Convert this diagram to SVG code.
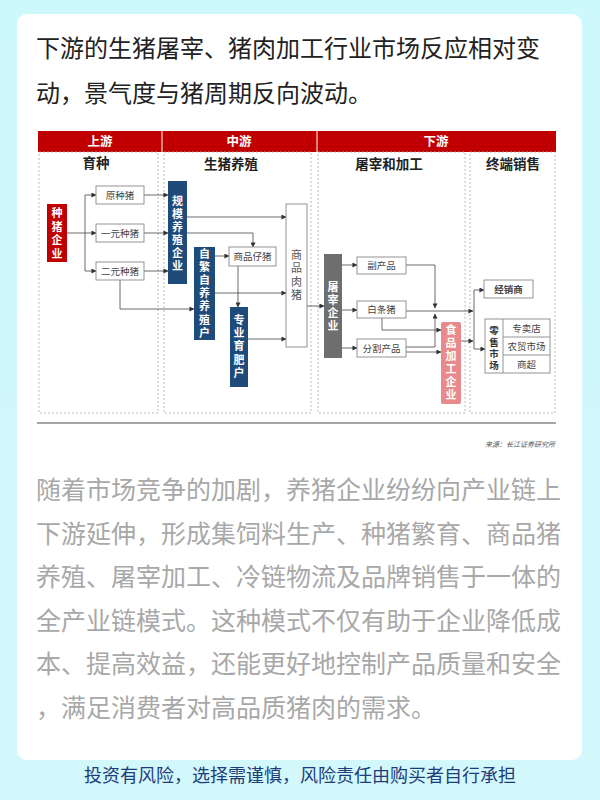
<svg xmlns="http://www.w3.org/2000/svg" width="600" height="800" viewBox="0 0 600 800">
<defs>
<marker id="ah" viewBox="0 0 6 6" refX="5.5" refY="3" markerWidth="5" markerHeight="5" orient="auto" markerUnits="userSpaceOnUse"><path d="M0,0 L6,3 L0,6 Z" fill="#333"/></marker>
<linearGradient id="bg" x1="0" y1="0" x2="0" y2="1"><stop offset="0" stop-color="#cdf8fc"/><stop offset="1" stop-color="#d3f8fb"/></linearGradient>
</defs>
<style>
text{font-family:"Noto Sans CJK SC","Noto Sans",sans-serif}
.title{font-size:24px;fill:#222}
.para{font-size:25px;fill:#a8a8a8}
.foot{font-size:18px;fill:#1e3c7c}
.hdr{font-size:12.5px;font-weight:bold;fill:#fff}
.colh{font-size:13.5px;font-weight:bold;fill:#222}
.col{fill:none;stroke:#aaa;stroke-width:0.8;stroke-dasharray:2,2}
.box{fill:#fff;stroke:#888;stroke-width:0.9}
.bt{font-size:9.5px;fill:#444;text-anchor:middle}
.vt{font-size:11px;font-weight:bold;fill:#fff;text-anchor:middle}
.vg{font-size:11px;fill:#555;text-anchor:middle}
.blue{fill:#1f4b7a}
.conn path{fill:none;stroke:#444;stroke-width:0.8}
.arr{marker-end:url(#ah)}
</style>
<rect width="600" height="800" fill="url(#bg)"/>
<rect x="17" y="14" width="565" height="746" rx="10" fill="#fff"/>
<text class="title" x="36" y="57">下游的生猪屠宰、猪肉加工行业市场反应相对变</text>
<text class="title" x="36" y="102">动，景气度与猪周期反向波动。</text>

<g id="header">
<rect x="38" y="131" width="518" height="21" fill="#c00000"/>
<line x1="162" y1="131" x2="162" y2="152" stroke="#fff" stroke-width="1"/>
<line x1="317" y1="131" x2="317" y2="152" stroke="#fff" stroke-width="1"/>
<text class="hdr" x="100" y="146" text-anchor="middle">上游</text>
<text class="hdr" x="239" y="146" text-anchor="middle">中游</text>
<text class="hdr" x="436" y="146" text-anchor="middle">下游</text>
</g>
<g id="columns">
<rect class="col" x="39" y="152" width="119" height="261"/>
<rect class="col" x="164" y="152" width="147" height="261"/>
<rect class="col" x="318" y="152" width="147" height="261"/>
<rect class="col" x="470" y="152" width="85" height="261"/>
<text class="colh" x="96" y="168" text-anchor="middle">育种</text>
<text class="colh" x="231" y="169" text-anchor="middle">生猪养殖</text>
<text class="colh" x="389" y="169" text-anchor="middle">屠宰和加工</text>
<text class="colh" x="513" y="169" text-anchor="middle">终端销售</text>
</g>

<g class="conn" id="connectors">
<path class="arr" d="M67,233 H96"/>
<path d="M85,195 V271"/>
<path class="arr" d="M85,195 H96"/>
<path class="arr" d="M85,271 H96"/>
<path class="arr" d="M144,195 H168"/>
<path class="arr" d="M144,233 H168"/>
<path class="arr" d="M144,271 H168"/>
<path class="arr" d="M120,280 V309 H194"/>
<path class="arr" d="M187,217 H286"/>
<path class="arr" d="M187,233 H253 V247"/>
<path class="arr" d="M215,256 H229"/>
<path class="arr" d="M238,266 V307"/>
<path class="arr" d="M215,293 H286"/>
<path class="arr" d="M248,339 H286"/>
<path class="arr" d="M307,306 H324"/>
<path class="arr" d="M342,265 H357"/>
<path class="arr" d="M342,310 H357"/>
<path class="arr" d="M342,348 H357"/>
<path class="arr" d="M406,265 H435 V308"/>
<path class="arr" d="M406,347 H435 V314"/>
<path class="arr" d="M406,311 H473"/>
<path class="arr" d="M382,318 V330 H441"/>
<path class="arr" d="M406,352 H441"/>
<path class="arr" d="M461,341 H473"/>
<path d="M474,290 V349"/>
<path class="arr" d="M474,290 H484"/>
<path class="arr" d="M474,349 H485"/>
</g>

<g id="zhuzhu">
<rect x="47" y="204" width="20" height="58" fill="#c00000"/>
<text class="vt" x="57" y="217"><tspan x="57">种</tspan><tspan x="57" dy="13.5">猪</tspan><tspan x="57" dy="13.5">企</tspan><tspan x="57" dy="13.5">业</tspan></text>
</g>
<g id="yuanzhong"><rect class="box" x="96" y="186" width="48" height="18"/><text class="bt" x="120" y="198.5">原种猪</text></g>
<g id="yiyuan"><rect class="box" x="96" y="224" width="48" height="18"/><text class="bt" x="120" y="236.5">一元种猪</text></g>
<g id="eryuan"><rect class="box" x="96" y="262" width="48" height="18"/><text class="bt" x="120" y="274.5">二元种猪</text></g>

<g id="guimo">
<rect class="blue" x="168" y="181" width="19" height="103"/>
<text class="vt" x="177.5" y="205"><tspan x="177.5">规</tspan><tspan x="177.5" dy="13">模</tspan><tspan x="177.5" dy="13">养</tspan><tspan x="177.5" dy="13">殖</tspan><tspan x="177.5" dy="13">企</tspan><tspan x="177.5" dy="13">业</tspan></text>
</g>
<g id="zifan">
<rect class="blue" x="194" y="247" width="21" height="93"/>
<text class="vt" x="204.5" y="257.5"><tspan x="204.5">自</tspan><tspan x="204.5" dy="13.2">繁</tspan><tspan x="204.5" dy="13.2">自</tspan><tspan x="204.5" dy="13.2">养</tspan><tspan x="204.5" dy="13.2">养</tspan><tspan x="204.5" dy="13.2">殖</tspan><tspan x="204.5" dy="13.2">户</tspan></text>
</g>
<g id="zizhu"><rect class="box" x="229" y="247" width="47" height="19"/><text class="bt" x="252.5" y="260">商品仔猪</text></g>
<g id="yufei">
<rect class="blue" x="230" y="307" width="18" height="80"/>
<text class="vt" x="239" y="324"><tspan x="239">专</tspan><tspan x="239" dy="13.2">业</tspan><tspan x="239" dy="13.2">育</tspan><tspan x="239" dy="13.2">肥</tspan><tspan x="239" dy="13.2">户</tspan></text>
</g>
<g id="rouzhu">
<rect class="box" x="286" y="204" width="21" height="143"/>
<text class="vg" x="296.5" y="259"><tspan x="296.5">商</tspan><tspan x="296.5" dy="13.3">品</tspan><tspan x="296.5" dy="13.3">肉</tspan><tspan x="296.5" dy="13.3">猪</tspan></text>
</g>
<g id="tuzai">
<rect x="324" y="254" width="18" height="104" fill="#6e6e6e"/>
<text class="vt" x="333" y="291"><tspan x="333">屠</tspan><tspan x="333" dy="13">宰</tspan><tspan x="333" dy="13">企</tspan><tspan x="333" dy="13">业</tspan></text>
</g>
<g id="fuchanpin"><rect class="box" x="357" y="257" width="49" height="17"/><text class="bt" x="381.5" y="269">副产品</text></g>
<g id="baitiao"><rect class="box" x="357" y="301" width="49" height="17"/><text class="bt" x="381.5" y="313">白条猪</text></g>
<g id="fenge"><rect class="box" x="357" y="339" width="49" height="18"/><text class="bt" x="381.5" y="351.5">分割产品</text></g>
<g id="shipin">
<rect x="441" y="322" width="20" height="82" rx="2" fill="#e8898c"/>
<text class="vt" x="451" y="334"><tspan x="451">食</tspan><tspan x="451" dy="13">品</tspan><tspan x="451" dy="13">加</tspan><tspan x="451" dy="13">工</tspan><tspan x="451" dy="13">企</tspan><tspan x="451" dy="13">业</tspan></text>
</g>
<g id="jingxiao"><rect class="box" x="484" y="280" width="49" height="18"/><text class="bt" x="508.5" y="292.5" font-weight="bold" fill="#333">经销商</text></g>
<g id="lingshou">
<rect class="box" x="485" y="319" width="65" height="54"/>
<line x1="503" y1="319" x2="503" y2="373" stroke="#888" stroke-width="0.9"/>
<line x1="503" y1="337" x2="550" y2="337" stroke="#888" stroke-width="0.9"/>
<line x1="503" y1="355" x2="550" y2="355" stroke="#888" stroke-width="0.9"/>
<text x="494" y="334" font-size="9.5" font-weight="bold" fill="#333" text-anchor="middle"><tspan x="494">零</tspan><tspan x="494" dy="11.5">售</tspan><tspan x="494" dy="11.5">市</tspan><tspan x="494" dy="11.5">场</tspan></text>
<text class="bt" x="526.5" y="331.5">专卖店</text>
<text class="bt" x="526.5" y="349.5">农贸市场</text>
<text class="bt" x="526.5" y="367.5">商超</text>
</g>
<line x1="37" y1="423" x2="556" y2="423" stroke="#888" stroke-width="1.5"/>
<text x="555" y="447" font-size="7" font-style="italic" fill="#555" text-anchor="end">来源：长江证券研究所</text>

<text class="para" x="36" y="499">随着市场竞争的加剧，养猪企业纷纷向产业链上</text>
<text class="para" x="36" y="543">下游延伸，形成集饲料生产、种猪繁育、商品猪</text>
<text class="para" x="36" y="586">养殖、屠宰加工、冷链物流及品牌销售于一体的</text>
<text class="para" x="36" y="630">全产业链模式。这种模式不仅有助于企业降低成</text>
<text class="para" x="36" y="673">本、提高效益，还能更好地控制产品质量和安全</text>
<text class="para" x="36" y="717">，满足消费者对高品质猪肉的需求。</text>

<text class="foot" x="300" y="782" text-anchor="middle">投资有风险，选择需谨慎，风险责任由购买者自行承担</text>
</svg>
